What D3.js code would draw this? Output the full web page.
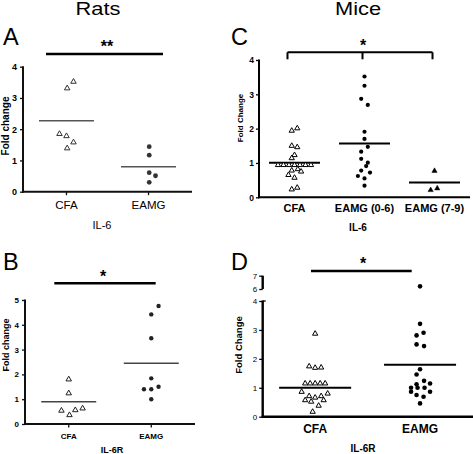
<!DOCTYPE html>
<html><head><meta charset="utf-8">
<script src="https://cdn.jsdelivr.net/npm/d3@7"></script>
<style>
body{margin:0;background:#fff;}
svg{display:block;}
</style></head><body>
<svg id="c" width="473" height="454"></svg>
<script>
// ---------------- DATA ----------------
const speciesTitles = ["Rats", "Mice"];
const panelLetters = ["A", "B", "C", "D"];

// Panel A – Rats, IL-6
const aCategories = ["CFA", "EAMG"];
const aYTicks = [0, 1, 2, 3, 4];
const aCFA = [3.52, 3.31, 1.85, 1.78, 1.58, 1.39];
const aCFASlots = [1, 0.1, -1, 0, 1, 0.1];
const aEAMG = [1.44, 1.17, 0.61, 0.51, 0.30];
const aEAMGSlots = [0.1, 0.1, 0.1, 1, 0.1];
const aMeans = [2.27, 0.80];
const aStars = "**";
const aXTitle = "IL-6";
const aYTitle = "Fold change";

// Panel B – Rats, IL-6R
const bCategories = ["CFA", "EAMG"];
const bYTicks = [0, 1, 2, 3, 4, 5];
const bCFA = [1.80, 1.24, 0.54, 0.36, 0.56, 0.63];
const bCFASlots = [0, 0, -1, 0.1, 0.9, 1.9];
const bEAMG = [4.76, 4.42, 3.46, 1.84, 1.40, 1.40, 1.50, 1.00];
const bEAMGSlots = [1, 0, 0, 0, -1, 0, 1, 0];
const bMeans = [0.90, 2.45];
const bStars = "*";
const bXTitle = "IL-6R";
const bYTitle = "Fold change";

// Panel C – Mice, IL-6
const cCategories = ["CFA", "EAMG (0-6)", "EAMG (7-9)"];
const cYTicks = [0, 1, 2, 3, 4];
const cCFA = [2.01, 1.94, 1.50, 1.46, 1.23, 1.14, 0.94, 0.94, 0.94, 0.94, 0.94, 0.94, 0.94, 0.82, 0.78, 0.75, 0.65, 0.57, 0.28, 0.23];
const cCFASlots = [0.5, -0.5, -0.5, 0.5, 0, -0.5, -3, -2, -1, 0, 1, 2, 3, 0.6, -0.5, 1.2, -1.1, 0, 0.5, -0.5];
const cEAMG06 = [3.52, 3.25, 2.87, 2.69, 1.91, 1.70, 1.47, 1.33, 1.12, 1.01, 0.91, 0.78, 0.72, 0.62, 0.55, 0.34];
const cEAMG06Slots = [0, 0, -0.6, 0.6, 0, 0, 0.6, -0.6, -0.6, 0.6, 0.3, -0.6, 1, -1.2, 0, 0];
const cEAMG79 = [0.77, 0.21, 0.26];
const cEAMG79Slots = [0, -0.7, 0.5];
const cMeans = [1.01, 1.57, 0.43];
const cStars = "*";
const cXTitle = "IL-6";
const cYTitle = "Fold Change";

// Panel D – Mice, IL-6R (broken axis 4 | 6–7)
const dCategories = ["CFA", "EAMG"];
const dYTicks = [0, 1, 2, 3, 4];
const dYTicksUpper = [6, 7];
const dCFA = [2.87, 1.74, 1.69, 1.70, 1.15, 1.15, 1.15, 1.15, 1.15, 0.86, 0.71, 0.66, 0.71, 0.80, 0.57, 0.52, 0.57, 0.38, 0.17];
const dCFASlots = [0, -1.2, 0, 1.2, -2, -1, 0, 1, 2, -2.7, -1.2, 0, 1.2, 2.5, -2, -0.8, 1.7, 0.7, -0.5];
const dEAMG = [6.2, 3.21, 2.90, 2.81, 2.50, 2.44, 1.64, 1.46, 1.24, 1.15, 1.12, 1.00, 1.00, 1.00, 0.86, 0.86, 0.75, 0.69, 0.46];
const dEAMGSlots = [0, 0, 0.7, -0.7, -0.7, 0.8, 0, -0.7, 0.8, 2, -0.7, -1.8, -0.5, 0.9, -1.8, 2, -0.7, 0.7, 0];
const dMeans = [1.00, 1.80];
const dStars = "*";
const dXTitle = "IL-6R";
const dYTitle = "Fold Change";

// ---------------- DRAWING ----------------
const FONT = '"Liberation Sans", Arial, Helvetica, sans-serif';
const svg = d3.select('#c').style('font-family', FONT);

function drawPanel(p) {
  const g = svg.append('g');
  const x = d3.scalePoint().domain(p.categories).range([p.left, p.right]).padding(p.pad);
  const y = d3.scaleLinear().domain([0, p.yMax]).range([p.bottom, p.top]);
  const yUp = p.upper ? d3.scaleLinear().domain(p.upper.domain).range(p.upper.range) : null;
  const yv = v => (yUp && v > p.yMax + 1) ? yUp(v) : y(v);
  const slot = d3.scaleLinear().domain([0, 1]).range([0, p.slotPx]);

  // y ticks
  const ax = g.append('g').attr('transform', `translate(${p.left},0)`)
    .call(d3.axisLeft(y).tickValues(p.yTicks).tickSize(p.tickLen).tickPadding(p.tickPad).tickFormat(d3.format('d')));
  ax.select('.domain').remove();
  ax.selectAll('line').attr('stroke', p.axisInk).attr('stroke-width', 1.3);
  ax.selectAll('text').attr('fill', '#000').style('font-size', p.tickFont + 'px')
    .style('font-weight', p.tickBold ? 'bold' : 'normal').style('font-family', FONT);

  // axis lines
  g.append('line').attr('x1', p.left).attr('x2', p.left).attr('y1', y(p.yMax) - 0.5).attr('y2', y(0) + 1)
    .attr('stroke', p.axisInk).attr('stroke-width', p.axisW);
  g.append('line').attr('x1', p.left - 1).attr('x2', p.axisEnd).attr('y1', y(0)).attr('y2', y(0))
    .attr('stroke', p.axisInk).attr('stroke-width', p.axisW);

  if (p.topTickBoth) {
    g.append('line').attr('x1', p.left).attr('x2', p.left + 3).attr('y1', y(p.yMax)).attr('y2', y(p.yMax))
      .attr('stroke', p.axisInk).attr('stroke-width', 1.3);
  }

  // upper broken segment
  if (yUp) {
    const au = g.append('g').attr('transform', `translate(${p.left},0)`)
      .call(d3.axisLeft(yUp).tickValues(p.upper.ticks).tickSize(p.tickLen).tickPadding(p.tickPad).tickFormat(d3.format('d')));
    au.select('.domain').remove();
    au.selectAll('line').attr('stroke', p.axisInk).attr('stroke-width', 1.3);
    au.selectAll('text').attr('fill', '#000').style('font-size', p.tickFont + 'px').style('font-family', FONT);
    g.append('line').attr('x1', p.left).attr('x2', p.left).attr('y1', yUp(p.upper.domain[1])).attr('y2', yUp(p.upper.domain[0]))
      .attr('stroke', p.axisInk).attr('stroke-width', p.axisW);
  }

  // x ticks
  if (p.xTicks) {
    g.selectAll('.xt').data(p.categories).enter().append('line')
      .attr('x1', d => x(d)).attr('x2', d => x(d)).attr('y1', y(0)).attr('y2', y(0) + 3.5)
      .attr('stroke', p.axisInk).attr('stroke-width', 1.3);
  }

  // x labels
  g.selectAll('.xl').data(p.categories).enter().append('text')
    .attr('x', d => x(d)).attr('y', p.xLabelY).attr('text-anchor', 'middle')
    .style('font-size', p.xLabelFont + 'px').style('font-weight', p.xLabelBold ? 'bold' : 'normal')
    .text(d => d);

  // x title
  g.append('text').attr('x', p.xTitleX).attr('y', p.xTitleY).attr('text-anchor', 'middle')
    .style('font-size', p.xTitleFont + 'px').style('font-weight', p.xTitleBold ? 'bold' : 'normal')
    .text(p.xTitle);

  // y title
  g.append('text').attr('transform', `translate(${p.yTitleX},${p.yTitleY}) rotate(-90)`)
    .attr('text-anchor', 'middle').style('font-size', p.yTitleFont + 'px').style('font-weight', 'bold')
    .text(p.yTitle);

  // mean lines
  g.selectAll('.mean').data(p.means).enter().append('line')
    .attr('x1', (d, i) => x(p.categories[i]) - p.meanHalf)
    .attr('x2', (d, i) => x(p.categories[i]) + p.meanHalf)
    .attr('y1', d => y(d)).attr('y2', d => y(d))
    .attr('stroke', p.meanInk).attr('stroke-width', p.meanW);

  // points
  p.groups.forEach(grp => {
    const pts = grp.values.map((v, i) => ({ v, s: grp.slots[i] }));
    const cx = d => x(grp.cat) + slot(d.s);
    if (grp.shape === 'dot') {
      g.selectAll(null).data(pts).enter().append('circle')
        .attr('cx', cx).attr('cy', d => yv(d.v)).attr('r', p.dotR).attr('fill', p.pointInk);
    } else {
      const sym = d3.symbol().type(d3.symbolTriangle).size(p.triSize);
      g.selectAll(null).data(pts).enter().append('path')
        .attr('d', sym).attr('transform', d => `translate(${cx(d)},${yv(d.v)})`)
        .attr('fill', grp.shape === 'triFilled' ? p.pointInk : '#fff')
        .attr('stroke', p.pointInk).attr('stroke-width', grp.shape === 'triFilled' ? 0.5 : 1);
    }
  });

  // significance bar
  const sb = p.sig;
  g.append('line').attr('x1', sb.x1(x)).attr('x2', sb.x2(x)).attr('y1', sb.y).attr('y2', sb.y)
    .attr('stroke', '#000').attr('stroke-width', sb.w);
  if (sb.drops) {
    sb.drops(x).forEach(xx => {
      g.append('line').attr('x1', xx).attr('x2', xx).attr('y1', sb.y).attr('y2', sb.y + 7)
        .attr('stroke', '#000').attr('stroke-width', sb.w);
    });
  }
  g.append('text').attr('x', sb.starX).attr('y', sb.starY).attr('text-anchor', 'middle')
    .style('font-size', '16px').style('font-weight', 'bold').text(sb.stars);
}

// Panel A
drawPanel({
  categories: aCategories, yMax: 4, yTicks: aYTicks,
  left: 23, right: 192, pad: 0.53, top: 66.7, bottom: 191.7, axisEnd: 192,
  slotPx: 7, tickLen: 3, tickPad: 3, tickFont: 9, tickBold: true,
  axisInk: '#111', axisW: 2, xTicks: true,
  xLabelY: 209, xLabelFont: 11.5, xLabelBold: false,
  xTitle: aXTitle, xTitleX: 102, xTitleY: 229, xTitleFont: 11, xTitleBold: false,
  yTitle: aYTitle, yTitleX: 8.5, yTitleY: 126, yTitleFont: 10,
  means: aMeans, meanHalf: 27.5, meanInk: '#555', meanW: 1.6,
  pointInk: '#333', dotR: 2.4, triSize: 13,
  groups: [{ cat: 'CFA', values: aCFA, slots: aCFASlots, shape: 'tri' },
           { cat: 'EAMG', values: aEAMG, slots: aEAMGSlots, shape: 'dot' }],
  sig: { x1: x => 46, x2: x => 163, y: 54, w: 2.5, stars: aStars, starX: 107, starY: 51.5 }
});

// Panel B
drawPanel({
  categories: bCategories, yMax: 5, yTicks: bYTicks,
  left: 25, right: 195, pad: 0.53, top: 300, bottom: 424, axisEnd: 195,
  slotPx: 7.3, tickLen: 3, tickPad: 3, tickFont: 8, tickBold: true,
  axisInk: '#111', axisW: 2, xTicks: true,
  xLabelY: 438.5, xLabelFont: 8, xLabelBold: true,
  xTitle: bXTitle, xTitleX: 112, xTitleY: 453, xTitleFont: 9, xTitleBold: true,
  yTitle: bYTitle, yTitleX: 8.5, yTitleY: 345, yTitleFont: 9,
  means: bMeans, meanHalf: 27.5, meanInk: '#444', meanW: 1.4,
  pointInk: '#222', dotR: 2.2, triSize: 13,
  groups: [{ cat: 'CFA', values: bCFA, slots: bCFASlots, shape: 'tri' },
           { cat: 'EAMG', values: bEAMG, slots: bEAMGSlots, shape: 'dot' }],
  sig: { x1: x => 54.3, x2: x => 155.7, y: 283.3, w: 2.5, stars: bStars, starX: 103, starY: 281.5 }
});

// Panel C
drawPanel({
  categories: cCategories, yMax: 4, yTicks: cYTicks,
  left: 259, right: 470, pad: 0.507, top: 60, bottom: 197.3, axisEnd: 470,
  slotPx: 5.5, tickLen: 3, tickPad: 2, tickFont: 8.5, tickBold: true,
  axisInk: '#000', axisW: 2, xTicks: false,
  xLabelY: 212, xLabelFont: 11, xLabelBold: true,
  xTitle: cXTitle, xTitleX: 358, xTitleY: 231, xTitleFont: 10, xTitleBold: true,
  yTitle: cYTitle, yTitleX: 243, yTitleY: 118, yTitleFont: 8,
  means: cMeans, meanHalf: 25.5, meanInk: '#000', meanW: 2,
  pointInk: '#000', dotR: 2.1, triSize: 12,
  groups: [{ cat: 'CFA', values: cCFA, slots: cCFASlots, shape: 'tri' },
           { cat: 'EAMG (0-6)', values: cEAMG06, slots: cEAMG06Slots, shape: 'dot' },
           { cat: 'EAMG (7-9)', values: cEAMG79, slots: cEAMG79Slots, shape: 'triFilled' }],
  sig: { x1: x => x('CFA') - 7, x2: x => x('EAMG (7-9)') - 2, y: 52.3, w: 2,
         drops: x => [x('CFA') - 7, x('EAMG (0-6)') - 2, x('EAMG (7-9)') - 2],
         stars: cStars, starX: 363, starY: 50.5 }
});

// Panel D
drawPanel({
  categories: dCategories, yMax: 4, yTicks: dYTicks,
  upper: { domain: [6, 7], range: [289, 275.7], ticks: dYTicksUpper },
  left: 262.7, right: 472.5, pad: 0.5, top: 301, bottom: 416.7, axisEnd: 473,
  slotPx: 5, tickLen: 3.5, tickPad: 2, tickFont: 8, tickBold: false, topTickBoth: true,
  axisInk: '#000', axisW: 2.4, xTicks: false,
  xLabelY: 433, xLabelFont: 12, xLabelBold: true,
  xTitle: dXTitle, xTitleX: 363, xTitleY: 452, xTitleFont: 10, xTitleBold: true,
  yTitle: dYTitle, yTitleX: 242, yTitleY: 345, yTitleFont: 9.5,
  means: dMeans, meanHalf: 36, meanInk: '#000', meanW: 2,
  pointInk: '#000', dotR: 2.3, triSize: 12,
  groups: [{ cat: 'CFA', values: dCFA, slots: dCFASlots, shape: 'tri' },
           { cat: 'EAMG', values: dEAMG, slots: dEAMGSlots, shape: 'dot' }],
  sig: { x1: x => 311, x2: x => 411.7, y: 271, w: 2.5, stars: dStars, starX: 363, starY: 268.5 }
});

// Species titles
[[speciesTitles[0], 98], [speciesTitles[1], 358]].forEach(([t, cx]) => {
  svg.append('text').attr('transform', `translate(${cx},15) scale(1.18,1)`)
    .attr('text-anchor', 'middle').style('font-size', '18.5px').text(t);
});

// Panel letters
[[panelLetters[0], 3, 45], [panelLetters[1], 3, 270], [panelLetters[2], 231, 45], [panelLetters[3], 231, 270]]
  .forEach(([t, xx, yy]) => {
    svg.append('text').attr('x', xx).attr('y', yy).style('font-size', '23.5px').text(t);
  });
</script>
</body></html>
